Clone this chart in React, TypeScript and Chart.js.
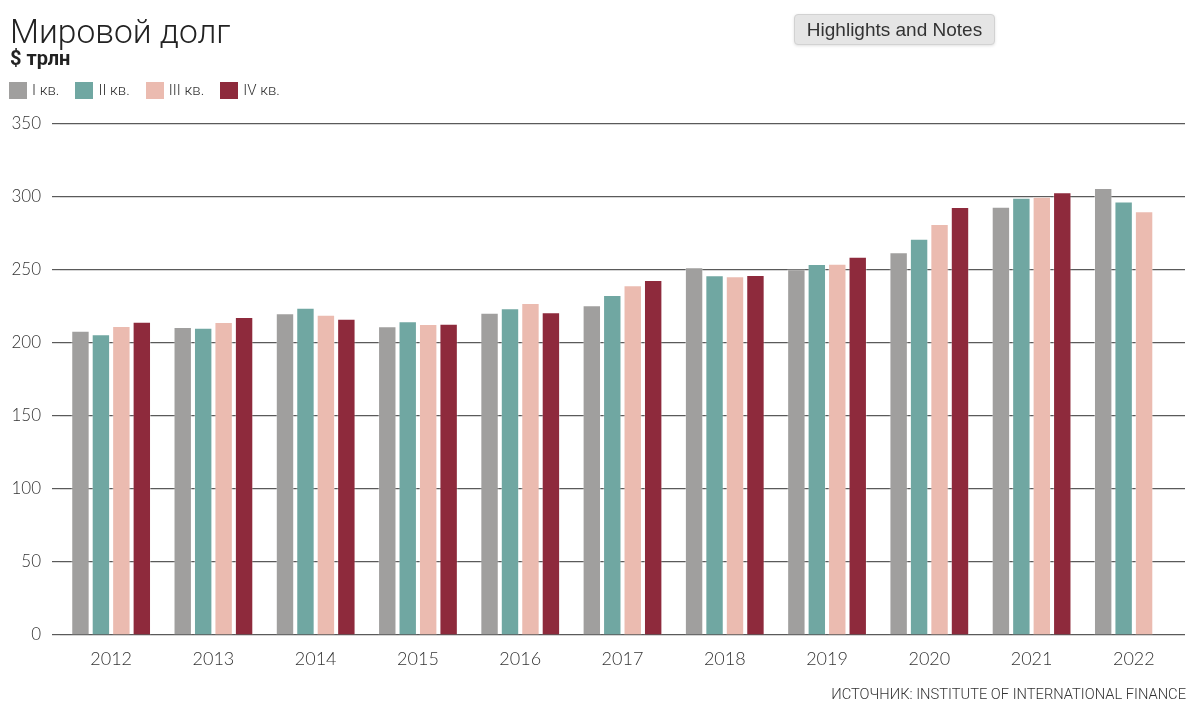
import React, { useEffect, useRef } from "react";
import { Chart, registerables } from "chart.js";

Chart.register(...registerables);

const categories = ["2012", "2013", "2014", "2015", "2016", "2017", "2018", "2019", "2020", "2021", "2022"];
const seriesLabels = ["I кв.", "II кв.", "III кв.", "IV кв."];
const q1 = [208.4, 211, 220.3, 211.4, 220.8, 225.8, 251.8, 250.5, 262.1, 293.4, 306.2];
const q2 = [206, 210.5, 224.2, 214.9, 223.8, 232.9, 246.4, 254.1, 271.4, 299.5, 297];
const q3 = [211.6, 214.4, 219.4, 213, 227.4, 239.5, 245.7, 254.3, 281.5, 300.2, 290.2];
const q4 = [214.6, 217.8, 216.6, 213.2, 221, 243.2, 246.6, 259.1, 293.2, 303.2, null];
const seriesValues = [q1, q2, q3, q4];
const seriesColors = ["#a09f9e", "#70a7a2", "#ebbbb0", "#8e2a3c"];
const yMin = 0;
const yMax = 350;
const yStep = 50;

const titleText = "Мировой долг";
const unitText = "$ трлн";
const sourceText = "ИСТОЧНИК: INSTITUTE OF INTERNATIONAL FINANCE";
const buttonText = "Highlights and Notes";

const W = 1200;
const H = 719;

export default function App() {
  const canvasRef = useRef<HTMLCanvasElement | null>(null);

  useEffect(() => {
    const canvas = canvasRef.current;
    if (!canvas) return;
    const chart = new Chart(canvas, {
      type: "bar",
      data: {
        labels: categories,
        datasets: seriesValues.map((vals, i) => ({
          label: seriesLabels[i],
          data: vals,
          backgroundColor: seriesColors[i],
          borderColor: "rgba(255,255,255,0.35)",
          borderWidth: 1,
          categoryPercentage: 0.8,
          barPercentage: 0.9,
        })),
      },
      options: {
        responsive: false,
        animation: false,
        devicePixelRatio: 1,
        layout: { padding: { top: 124, left: 0, right: 15, bottom: 44 } },
        plugins: {
          legend: { display: false },
          tooltip: { enabled: false },
          title: { display: false },
        },
        scales: {
          x: {
            grid: { display: false, drawTicks: false },
            border: { display: false },
            ticks: {
              color: "#333",
              font: { family: "Lato", size: 18, weight: "300" },
              padding: 13,
              maxRotation: 0,
            },
            afterFit: (axis: any) => {
              axis.height = 40;
            },
          },
          y: {
            min: yMin,
            max: yMax,
            grid: { color: "#5a5a5a", lineWidth: 1.2, drawTicks: true, tickLength: 8 },
            border: { display: false },
            ticks: {
              stepSize: yStep,
              color: "#333",
              font: { family: "Lato", size: 17, weight: "300" },
              padding: 11,
            },
            afterFit: (axis: any) => {
              axis.width = 60;
            },
          },
        },
      },
    });
    return () => chart.destroy();
  }, []);

  return (
    <div style={{ position: "absolute", left: 0, top: 0, width: W, height: H, background: "#fff", overflow: "hidden" }}>
      <canvas ref={canvasRef} width={W} height={H} style={{ position: "absolute", left: 0, top: 0, width: W, height: H }} />
      <div
        style={{
          position: "absolute",
          left: 10,
          top: 15,
          fontFamily: "Roboto, 'Open Sans', sans-serif",
          fontWeight: 300,
          fontSize: 33.5,
          lineHeight: "33px",
          color: "#222",
          whiteSpace: "nowrap",
        }}
      >
        {titleText}
      </div>
      <div
        style={{
          position: "absolute",
          left: 10,
          top: 48,
          fontFamily: "Roboto, 'Open Sans', sans-serif",
          fontWeight: 700,
          fontSize: 20,
          lineHeight: "20px",
          color: "#222",
          whiteSpace: "nowrap",
        }}
      >
        {unitText}
      </div>
      <div
        style={{
          position: "absolute",
          left: 9,
          top: 82,
          display: "flex",
          alignItems: "center",
          gap: 16,
          fontFamily: "Roboto, 'Open Sans', sans-serif",
          fontWeight: 300,
          fontSize: 15,
          lineHeight: "17px",
          color: "#333",
        }}
      >
        {seriesLabels.map((lab, i) => (
          <div key={lab} style={{ display: "flex", alignItems: "center" }}>
            <span style={{ display: "inline-block", width: 18, height: 17, background: seriesColors[i], marginRight: 5 }} />
            <span style={{ whiteSpace: "nowrap" }}>{lab}</span>
          </div>
        ))}
      </div>
      <div
        style={{
          position: "absolute",
          left: 794,
          top: 14,
          width: 201,
          height: 31,
          boxSizing: "border-box",
          background: "#e5e5e5",
          border: "1px solid #d2d2d2",
          borderRadius: 4,
          boxShadow: "0 1px 3px rgba(0,0,0,0.12)",
          display: "flex",
          alignItems: "center",
          justifyContent: "center",
          fontFamily: "'Liberation Sans', Arial, sans-serif",
          fontSize: 19,
          color: "#333",
          whiteSpace: "nowrap",
        }}
      >
        {buttonText}
      </div>
      <div
        style={{
          position: "absolute",
          right: W - 1186,
          top: 686,
          fontFamily: "Roboto, 'Open Sans', sans-serif",
          fontWeight: 300,
          fontSize: 14.7,
          lineHeight: "16px",
          color: "#333",
          whiteSpace: "nowrap",
        }}
      >
        {sourceText}
      </div>
    </div>
  );
}
